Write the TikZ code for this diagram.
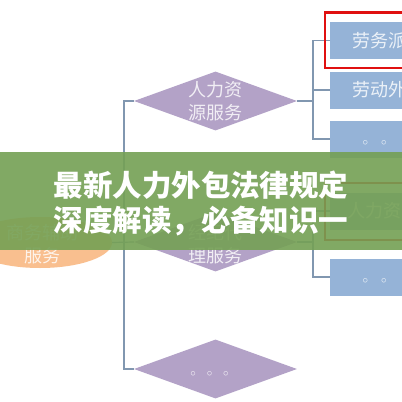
\documentclass[tikz,border=0pt]{standalone}
\usepackage{fontspec}
\setmainfont{Noto Sans CJK SC}
\usepackage{xcolor}
\usetikzlibrary{positioning,shapes.geometric}

\definecolor{diafill}{HTML}{B3A2C7}
\definecolor{boxfill}{HTML}{95B3D7}
\definecolor{ellfill}{HTML}{F9BF8F}
\definecolor{linecol}{HTML}{8197B0}
\definecolor{bandcol}{RGB}{116,160,84}
\definecolor{framered}{HTML}{E01010}

\begin{document}
\begin{tikzpicture}[x=1pt, y=-1pt]
      \tikzstyle{dia} = [diamond, fill=diafill, inner sep=0pt, minimum width=163pt, minimum height=59pt]
      \tikzstyle{box} = [rectangle, fill=boxfill, anchor=west, inner sep=0pt, minimum width=100pt, minimum height=37pt]
      \tikzstyle{ell} = [ellipse, fill=ellfill, inner sep=0pt, minimum width=144pt, minimum height=51pt]
      \tikzstyle{txt} = [text=white, text opacity=0.82, align=center, inner sep=0pt, font=\fontsize{18}{23}\selectfont]
      \tikzstyle{dots} = [text=white, text opacity=0.9, inner sep=0pt, font=\fontsize{11}{11}\selectfont]
      \tikzstyle{conn} = [draw=linecol, line width=1.2pt]
      \useasboundingbox (0,0) rectangle (402,402);
      \clip (0,0) rectangle (402,402);
      \fill[white] (0,0) rectangle (402,402);
      % left column
      \node[dia] (D1) at (215.5,101) {};
      \node[txt] (D1t) at (D1) {人力资\\源服务};
      \node[dia] (D2) at (215.5,242) {};
      \node[txt] (D2t) at (215,244) {经纪代\\理服务};
      \node[dia] (D3) at (215.5,369) {};
      \node[dots] (D3t) at (209.5,374) {$\circ$\hspace{11pt}$\circ$\hspace{11pt}$\circ$};
      \node[ell] (E) at (40,242.5) {};
      \node[txt] (Et) at (42,244.5) {商务辅助\\服务};
      % right column
      \node[box] (B1) at (330,40.5) {};
      \node[txt, anchor=west] (B1t) at (352,40.5) {劳务派};
      \node[box] (B2) at (330,90) {};
      \node[txt, anchor=west] (B2t) at (352,90) {劳动外};
      \node[box] (B3) at (330,139) {};
      \node[dots] (B3t) at (374.5,143) {$\circ$\hspace{13pt}$\circ$};
      \node[box] (B4) at (330,211) {};
      \node[txt, anchor=west] (B4t) at (347,211) {人力资};
      \node[box] (B5) at (330,277) {};
      \node[dots] (B5t) at (374.5,281) {$\circ$\hspace{13pt}$\circ$};
      \coordinate (ls) at (124,0);
      \coordinate (rs) at (313,0);
      % connectors
      \draw[conn] (D1.west) -- (D1.west -| ls) |- (D3.west);
      \draw[conn] (E.east) -- (D2.west);
      \draw[conn] (D1.east) -- (D1.east -| rs);
      \draw[conn] (B1.west) -- (B1.west -| rs) |- (B3.west);
      \draw[conn] (B2.west) -- (B2.west -| rs);
      \draw[conn] (D2.east) -- (D2.east -| rs);
      \draw[conn] (B4.west) -- (B4.west -| rs) |- (B5.west);
      % red frames
      \draw[framered, line width=2.6pt] (325,12.5) rectangle (420,68);
      \draw[framered, line width=2.6pt] (325,183) rectangle (420,240);
      % title band
      \fill[bandcol, opacity=0.9] (0,152) rectangle (402,250);
      \node[text=white, align=center, inner sep=0pt, font=\fontsize{29.5}{35}\selectfont\bfseries] (T) at (201,203) {最新人力外包法律规定\\深度解读，必备知识一};
    \end{tikzpicture}
\end{document}
